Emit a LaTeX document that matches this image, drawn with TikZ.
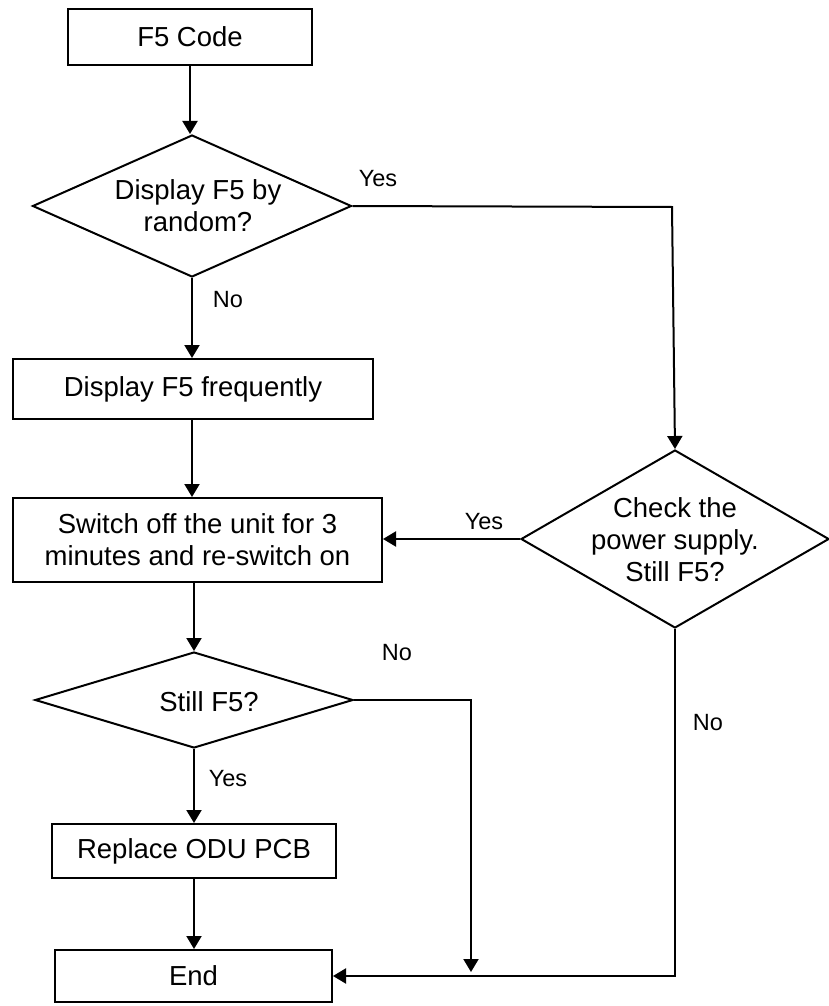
\documentclass[tikz,border=0pt]{standalone}
\usepackage{fontspec}
\setmainfont{Liberation Sans}
\usetikzlibrary{shapes.geometric,arrows.meta}
\tikzset{
  base/.style={draw=black, line width=2pt, inner sep=0pt, align=center,
    font=\fontsize{27.5}{32}\selectfont},
  procbox/.style={base, rectangle},
  decision/.style={base, diamond},
  dtext/.style={inner sep=0pt, align=center, font=\fontsize{27.5}{32}\selectfont},
  arr/.style={line width=2pt, -{Triangle[length=13pt,width=15pt]}},
  lbl/.style={font=\fontsize{23.5}{27}\selectfont, inner sep=0pt},
}
\begin{document}
\begin{tikzpicture}[x=1pt, y=-1pt]
  \useasboundingbox (0,0) rectangle (828,1006);

  % steps of the main column
  \node[procbox, minimum width=244pt, minimum height=56pt] (start) at (190,37) {F5 Code};
  \node[decision, minimum width=319pt, minimum height=142pt] (rand) at (192,206) {};
  \node[dtext] (randtxt) at (198,206) {Display F5 by\\random?};
  \node[procbox, minimum width=360pt, minimum height=60pt] (freq) at (193,389) {Display F5 frequently};
  \node[procbox, minimum width=369pt, minimum height=84pt] (reset) at (197.5,540) {Switch off the unit for 3\\minutes and re-switch on};
  \node[decision, minimum width=318pt, minimum height=96pt] (still) at (194,700) {};
  \node[dtext] (stilltxt) at (209,702) {Still F5?};
  \node[procbox, minimum width=284pt, minimum height=54pt] (pcb) at (194,851) {Replace ODU PCB};
  \node[procbox, minimum width=277pt, minimum height=52pt] (end) at (193.5,976) {End};

  % power supply check on the right
  \node[decision, minimum width=308pt, minimum height=178pt] (power) at (675,539) {};
  \node[dtext] (powertxt) at (675,540) {Check the\\power supply.\\Still F5?};

  % bend points
  \coordinate (yesbend) at (672,207);
  \coordinate (nobend) at (471,700);
  \coordinate (nodrop) at (471,972);
  \coordinate (powbend) at (675,976);

  % connectors
  \draw[arr] (start.south) -- (start.south |- rand.north);
  \draw[arr] (rand.south) -- (rand.south |- freq.north);
  \draw[arr] (freq.south -| rand.south) -- (rand.south |- reset.north);
  \draw[arr] (reset.south -| still.north) -- (still.north);
  \draw[arr] (still.south) -- (still.south |- pcb.north);
  \draw[arr] (pcb.south) -- (pcb.south |- end.north);

  \draw[arr] (rand.east) -- (yesbend) -- (power.north);
  \draw[arr] (power.west) -- (power.west -| reset.east);
  \draw[arr] (still.east) -- (nobend) -- (nodrop);
  \draw[arr] (power.south) -- (powbend) -- (end.east);

  % branch labels
  \node[lbl] (l1) at (378,179) {Yes};
  \node[lbl] (l2) at (228,300) {No};
  \node[lbl] (l3) at (484,522) {Yes};
  \node[lbl] (l4) at (397,653) {No};
  \node[lbl] (l5) at (228,779) {Yes};
  \node[lbl] (l6) at (708,723) {No};
\end{tikzpicture}
\end{document}
